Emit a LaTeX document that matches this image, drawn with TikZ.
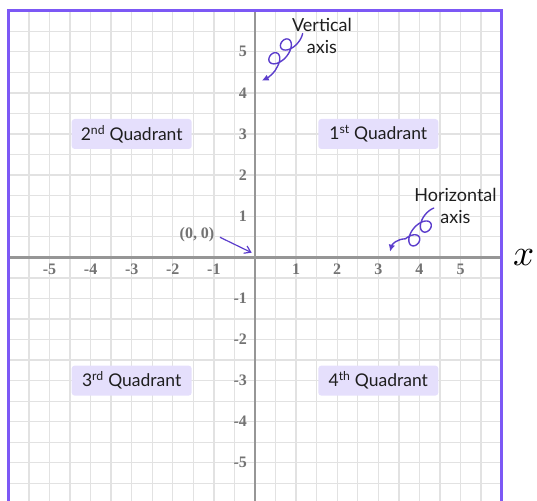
\documentclass[tikz,border=0pt]{standalone}
\usepackage{fontspec}
\setmainfont{Liberation Serif}
\newfontfamily\labfont{Lato}
\usetikzlibrary{arrows.meta}
\definecolor{framec}{RGB}{124,88,245}
\definecolor{gridc}{RGB}{226,226,226}
\definecolor{axisc}{RGB}{150,150,150}
\definecolor{boxc}{RGB}{229,223,252}
\definecolor{arrc}{RGB}{92,62,204}
\definecolor{tickc}{RGB}{115,115,115}
\definecolor{txtc}{RGB}{30,30,30}
\tikzset{
  quad/.style={fill=boxc, rounded corners=3pt, minimum width=120pt, minimum height=30pt,
    inner sep=0pt, text=txtc, font=\labfont\fontsize{17.5}{19}\selectfont},
  tick/.style={text=tickc, font=\bfseries\fontsize{16}{18}\selectfont, inner sep=0pt},
  note/.style={text=txtc, align=center, font=\labfont\fontsize{18}{22}\selectfont, inner sep=0pt},
  curlline/.style={draw=arrc, line width=1.4pt, line cap=round, line join=round,
    -{Latex[length=7pt,width=6.5pt]}},
}
\begin{document}
\begin{tikzpicture}[x=41.1pt, y=41.1pt]
\useasboundingbox (-6.204,-5.905) rectangle (6.861,6.260);
\clip (-6.204,-5.905) rectangle (6.861,6.260);
% grid
\draw[gridc, line width=1.3pt] (-6,-6.5) grid[step=0.5] (6,6);
% axes
\draw[axisc, line width=2.5pt] (-6,0) -- (6,0);
\draw[axisc, line width=2.5pt] (0,-6.5) -- (0,6);
% frame
\draw[framec, line width=3pt] (-6,-7) -- (-6,6) -- (6,6) -- (6,-7);
% tick labels
\foreach \k in {1,...,5} {
  \node[tick] (xp\k) at (\k,-0.3) {\k};
  \node[tick] (xn\k) at (-\k,-0.3) {-\k};
  \node[tick, anchor=east] (yp\k) at (-0.19,\k) {\k};
  \node[tick, anchor=east] (yn\k) at (-0.19,-\k) {-\k};
}
% quadrants
\node[quad] (q1) at (3,3) {1\textsuperscript{st} Quadrant};
\node[quad] (q2) at (-3,3) {2\textsuperscript{nd} Quadrant};
\node[quad] (q3) at (-3,-3) {3\textsuperscript{rd} Quadrant};
\node[quad] (q4) at (3,-3) {4\textsuperscript{th} Quadrant};
% x label
\node[inner sep=0pt, scale=3.7] (xlab) at (6.54,0) {$x$};
% origin annotation
\node[tick] (orig) at (-1.411,0.543) {(0, 0)};
\coordinate (origtip) at (-0.08,0.112);
\coordinate (origstart) at (-0.852,0.487);
\draw[arrc, line width=1.2pt, -{Straight Barb[length=6pt,width=8pt]}] (origstart) -- (origtip);
% notes
\node[note] (vnote) at (1.63,5.385) {Vertical\\axis};
\node[note] (hnote) at (4.878,1.26) {Horizontal\\axis};
% curly arrows, drawn in pixel coordinates (y up, origin at top-left corner)
\begin{scope}[shift={(-255pt,257.3pt)}, x=1pt, y=1pt]
  \coordinate (ve) at (261.7,-80.7);
  \coordinate (vc1) at (275.0,-72.7);
  \coordinate (vc2) at (268.0,-77.7);
  \begin{scope}[shift={(297.85,-42.9)}, rotate=230]
    \draw[curlline] plot[domain=-50:700, samples=150, smooth, variable=\t]
      ({2.86*\t*pi/180 + 10*sin(\t)}, {6.5*(cos(\t)-1)}) .. controls (vc1) and (vc2) .. (ve);
  \end{scope}
  \coordinate (he) at (390,-251.7);
  \coordinate (hc1) at (397.2,-239.0);
  \coordinate (hc2) at (392.1,-244.0);
  \begin{scope}[shift={(425.4,-214.4)}, rotate=230]
    \draw[curlline] plot[domain=-50:700, samples=150, smooth, variable=\t]
      ({2.86*\t*pi/180 + 10*sin(\t)}, {6.5*(1-cos(\t))}) .. controls (hc1) and (hc2) .. (he);
  \end{scope}
\end{scope}
\end{tikzpicture}
\end{document}
